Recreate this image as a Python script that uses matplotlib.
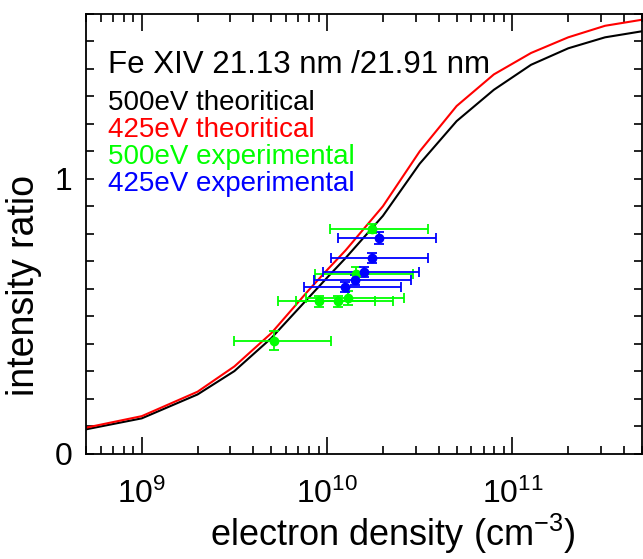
import numpy as np
import matplotlib.pyplot as plt
from matplotlib.ticker import LogLocator, MultipleLocator, FixedLocator

plt.rcParams['font.family'] = ['Liberation Sans', 'DejaVu Sans']
plt.rcParams['mathtext.fontset'] = 'custom'
plt.rcParams['mathtext.rm'] = 'Liberation Sans'
plt.rcParams['mathtext.it'] = 'Liberation Sans'

# theoretical curves (density grid, cm^-3)
dens_theory = [5.0e8, 1.0e9, 2.0e9, 3.16e9, 5.0e9, 7.94e9, 1.0e10, 1.26e10,
               2.0e10, 3.16e10, 5.0e10, 7.94e10, 1.26e11, 2.0e11, 3.16e11, 5.0e11]
ratio_500 = [0.088, 0.128, 0.215, 0.300, 0.420, 0.567, 0.640, 0.712,
             0.865, 1.055, 1.210, 1.324, 1.415, 1.475, 1.515, 1.537]
ratio_425 = [0.094, 0.136, 0.225, 0.317, 0.438, 0.594, 0.668, 0.740,
             0.900, 1.100, 1.265, 1.380, 1.458, 1.515, 1.557, 1.579]

# experimental points: density, lower / upper density bound, ratio, ratio error
g_dens = [1.75e10, 1.43e10, 1.29e10, 1.14e10, 9.09e9, 5.20e9]
g_lo = [1.04e10, 8.65e9, 7.71e9, 6.83e9, 5.42e9, 3.14e9]
g_hi = [3.49e10, 2.89e10, 2.59e10, 2.26e10, 1.82e10, 1.05e10]
g_ratio = [0.819, 0.655, 0.567, 0.555, 0.555, 0.410]
g_err = [0.018, 0.025, 0.025, 0.02, 0.02, 0.035]

b_dens = [1.91e10, 1.75e10, 1.59e10, 1.42e10, 1.255e10]
b_lo = [1.15e10, 1.05e10, 9.46e9, 8.54e9, 7.48e9]
b_hi = [3.87e10, 3.49e10, 3.15e10, 2.84e10, 2.51e10]
b_ratio = [0.785, 0.713, 0.661, 0.631, 0.607]
b_err = [0.022, 0.018, 0.018, 0.018, 0.018]

fig = plt.figure(figsize=(6.43, 5.59), dpi=100)
ax = fig.add_axes([0.1337, 0.1887, 0.8647, 0.7863])

ax.plot(dens_theory, ratio_500, color='black', lw=1.5, zorder=2)
ax.plot(dens_theory, ratio_425, color='#ff0000', lw=1.5, zorder=2)

def xerr(c, lo, hi):
    c = np.array(c)
    return [c - np.array(lo), np.array(hi) - c]

ax.errorbar(g_dens, g_ratio, xerr=xerr(g_dens, g_lo, g_hi), yerr=g_err, fmt='o',
            color='#00ff00', ms=6, elinewidth=1.3, capsize=3.5, capthick=1.3, zorder=3)
ax.errorbar(b_dens, b_ratio, xerr=xerr(b_dens, b_lo, b_hi), yerr=b_err, fmt='o',
            color='#0000ff', ms=6, elinewidth=1.3, capsize=3.5, capthick=1.3, zorder=3)

ax.set_xscale('log')
ax.set_xlim(5e8, 5e11)
ax.set_ylim(0, 1.6)

ax.xaxis.set_major_locator(LogLocator(base=10, numticks=10))
ax.xaxis.set_minor_locator(LogLocator(base=10, subs=np.arange(2, 10), numticks=20))
ax.yaxis.set_major_locator(FixedLocator([0, 1]))
ax.yaxis.set_minor_locator(MultipleLocator(0.1))

ax.tick_params(which='both', direction='in', top=True, right=True, width=1.2)
ax.tick_params(axis='x', which='major', length=12, pad=18, labelsize=23)
ax.tick_params(axis='x', which='minor', length=6)
ax.tick_params(axis='y', which='both', length=6, pad=10, labelsize=23)
for s in ax.spines.values():
    s.set_linewidth(1.3)

ax.set_xlabel(r'electron density (cm$^{-3}$)', fontsize=26)
ax.xaxis.set_label_coords(0.551, -0.133)
ax.set_ylabel('intensity ratio', fontsize=27)
ax.yaxis.set_label_coords(-0.1115, 0.383)
ax.yaxis.label.set_va('center')

ax.text(0.04, 0.865, 'Fe XIV 21.13 nm /21.91 nm', transform=ax.transAxes, fontsize=22.5)
labels = ['500eV theoritical', '425eV theoritical', '500eV experimental', '425eV experimental']
cols = ['black', '#ff0000', '#00ff00', '#0000ff']
for i, (t, c) in enumerate(zip(labels, cols)):
    ax.text(0.04, 0.782 - i * 0.0615, t, transform=ax.transAxes, fontsize=20, color=c)

fig.savefig('out.png', dpi=100)
